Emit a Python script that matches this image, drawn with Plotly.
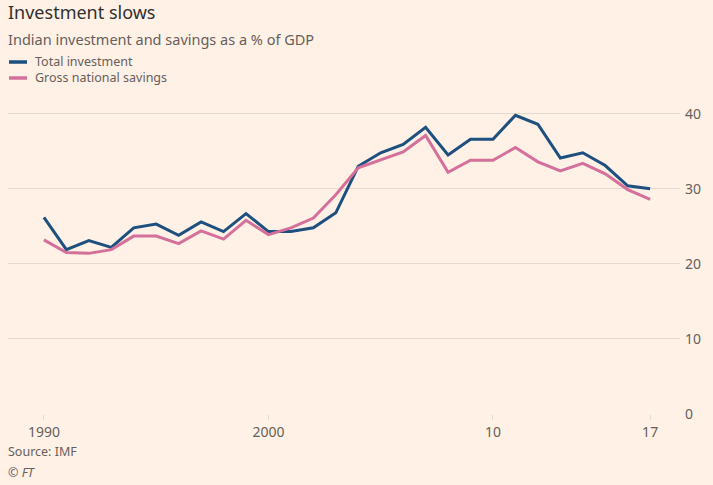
import plotly.graph_objects as go

years = list(range(1990, 2018))
total_investment = [26.2, 21.9, 23.1, 22.2, 24.8, 25.3, 23.8, 25.6, 24.3, 26.7,
                    24.3, 24.3, 24.8, 26.8, 33.0, 34.8, 35.9, 38.2, 34.5, 36.6,
                    36.6, 39.8, 38.6, 34.1, 34.8, 33.1, 30.4, 30.0]
gross_savings = [23.2, 21.5, 21.4, 21.9, 23.7, 23.7, 22.7, 24.4, 23.3, 25.8,
                 23.9, 24.8, 26.1, 29.2, 32.8, 33.8, 34.9, 37.1, 32.2, 33.8,
                 33.8, 35.5, 33.6, 32.4, 33.4, 32.0, 29.9, 28.6]
x_tickvals = [1990, 2000, 2010, 2017]
x_ticktext = ["1990", "2000", "10", "17"]
y_tickvals = [0, 10, 20, 30, 40]

BG = "#FFF1E5"
GRID = "#E6D9CE"
BLUE = "#1D4F7F"
PINK = "#D5709A"
FONT = "Noto Sans"

fig = go.Figure()
fig.add_trace(go.Scatter(x=years, y=total_investment, mode="lines", name="Total investment",
                         line=dict(color=BLUE, width=3), showlegend=False))
fig.add_trace(go.Scatter(x=years, y=gross_savings, mode="lines", name="Gross national savings",
                         line=dict(color=PINK, width=3), showlegend=False))

W, H = 713, 485
L, R, T, B = 8, 680, 110, 414

def py(pix):
    return (B - pix) / (B - T)

def px(pix):
    return (pix - L) / (R - L)

ann = [
    dict(text="Investment slows", x=px(7), y=py(12), font=dict(size=18, color="#33302E")),
    dict(text="Indian investment and savings as a % of GDP", x=px(7), y=py(39),
         font=dict(size=14.5, color="#66605C")),
    dict(text="Total investment", x=px(34), y=py(62), font=dict(size=12.5, color="#66605C")),
    dict(text="Gross national savings", x=px(34), y=py(78), font=dict(size=12.5, color="#66605C")),
    dict(text="Source: IMF", x=px(7), y=py(451), font=dict(size=12.5, color="#66605C")),
    dict(text="<i>© FT</i>", x=px(7), y=py(472), font=dict(size=12.5, color="#66605C")),
]
annotations = [dict(xref="paper", yref="paper", xanchor="left", yanchor="middle",
                    showarrow=False, borderpad=0, **a) for a in ann]

shapes = [
    dict(type="line", xref="paper", yref="paper", x0=px(9), x1=px(27), y0=py(62), y1=py(62),
         line=dict(color=BLUE, width=3.5)),
    dict(type="line", xref="paper", yref="paper", x0=px(9), x1=px(27), y0=py(78), y1=py(78),
         line=dict(color=PINK, width=3.5)),
]

fig.update_layout(
    width=W, height=H,
    margin=dict(l=L, r=W - R, t=T, b=H - B, pad=0),
    paper_bgcolor=BG, plot_bgcolor=BG,
    font=dict(family=FONT, color="#66605C", size=13),
    annotations=annotations, shapes=shapes,
    xaxis=dict(range=[1988.4, 2018.33], tickvals=x_tickvals, ticktext=x_ticktext,
               showgrid=False, zeroline=False, showline=False,
               ticks="outside", ticklen=5, tickcolor=GRID, tickwidth=1,
               tickfont=dict(size=14, color="#66605C"), fixedrange=True),
    yaxis=dict(range=[0, 40.5], tickvals=y_tickvals, side="right",
               showgrid=True, gridcolor=GRID, gridwidth=1, zeroline=False,
               showline=False, ticks="", ticklabelstandoff=4,
               tickfont=dict(size=14, color="#66605C"), fixedrange=True),
)

fig.write_html("out.html", config={"displayModeBar": False},
               post_script="document.body.style.margin='0px';document.body.style.overflow='hidden';")
